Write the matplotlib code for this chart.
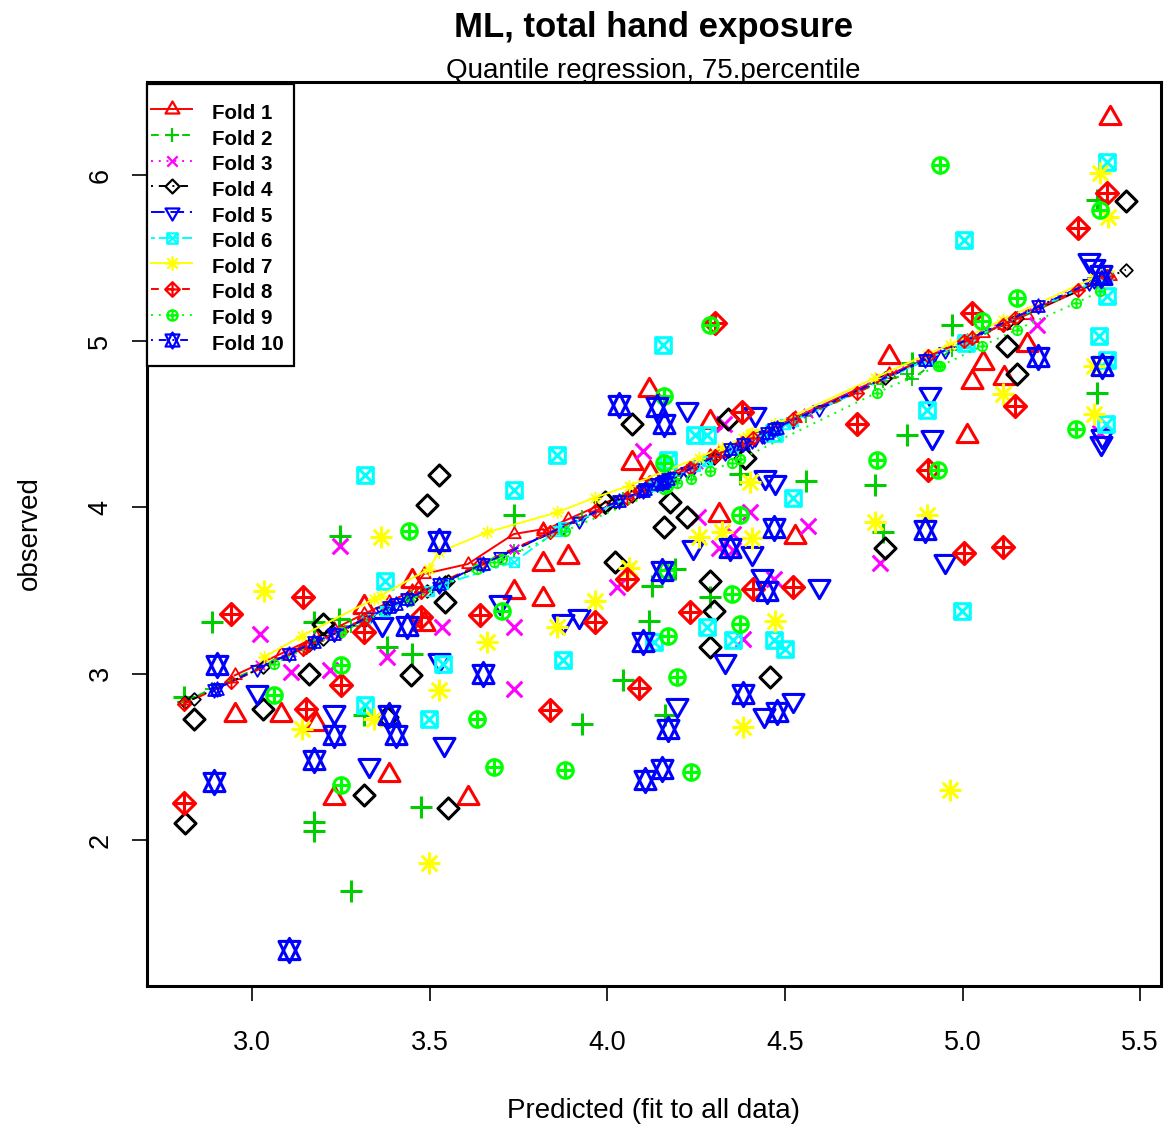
import numpy as np
import matplotlib
matplotlib.use("Agg")
import matplotlib.pyplot as plt
from matplotlib.path import Path
from matplotlib.lines import Line2D
from matplotlib.patches import Rectangle

plt.rcParams['font.family'] = ['Liberation Sans', 'DejaVu Sans']

# ---------------------------------------------------------------------------
# Data per cross-validation fold:
#   *_x    : predicted value from the model fitted to all data
#   *_obs  : observed value
#   *_pred : prediction of the fold model
# ---------------------------------------------------------------------------
f1_x = [2.95, 3.08, 3.18, 3.23, 3.315, 3.385, 3.45, 3.483, 3.607, 3.736, 3.82, 3.82, 3.89,
        4.069, 4.116, 4.12, 4.289, 4.313, 4.528, 4.794, 5.012, 5.026, 5.057, 5.117, 5.181, 5.416]
f1_obs = [2.75, 2.75, 2.70, 2.25, 3.40, 2.39, 3.56, 3.30, 2.25, 3.49, 3.66, 3.45, 3.70,
          4.265, 4.707, 4.21, 4.516, 3.955, 3.82, 4.907, 4.43, 4.757, 4.867, 4.78, 4.977, 6.34]
f1_pred = [2.99, 3.12, 3.22, 3.27, 3.36, 3.43, 3.50, 3.60, 3.66, 3.84, 3.87, 3.86, 3.93,
           4.10, 4.15, 4.15, 4.31, 4.33, 4.54, 4.80, 5.00, 5.02, 5.05, 5.10, 5.16, 5.39]

f2_x = [2.808, 2.887, 3.174, 3.174, 3.174, 3.244, 3.246, 3.277, 3.315, 3.38, 3.45, 3.476, 3.736,
        3.928, 4.045, 4.116, 4.125, 4.163, 4.19, 4.29, 4.374, 4.56, 4.754, 4.777, 4.843, 4.857,
        4.97, 5.378, 5.378]
f2_obs = [2.86, 3.31, 2.11, 2.055, 3.31, 3.33, 3.83, 1.695, 2.75, 3.16, 3.12, 2.20, 3.955,
          2.70, 2.96, 3.32, 3.53, 2.75, 3.63, 3.46, 4.20, 4.16, 4.135, 3.855, 4.435, 4.87,
          5.10, 4.69, 5.85]
f2_pred = [2.83, 2.91, 3.19, 3.19, 3.19, 3.26, 3.26, 3.29, 3.33, 3.39, 3.46, 3.49, 3.74,
           3.94, 4.05, 4.12, 4.13, 4.17, 4.19, 4.29, 4.37, 4.55, 4.74, 4.76, 4.80, 4.77,
           4.95, 5.36, 5.36]

f3_x = [3.023, 3.108, 3.22, 3.246, 3.38, 3.535, 3.736, 3.736, 4.026, 4.10, 4.255, 4.313, 4.327,
        4.354, 4.355, 4.383, 4.402, 4.47, 4.566, 4.768, 5.211, 5.387]
f3_obs = [3.24, 3.01, 3.02, 3.77, 3.10, 3.28, 3.28, 2.91, 3.52, 4.34, 3.94, 3.755, 4.50,
          3.745, 3.84, 3.21, 3.97, 3.57, 3.89, 3.665, 5.10, 4.45]
f3_pred = [3.05, 3.13, 3.24, 3.26, 3.40, 3.55, 3.75, 3.75, 4.04, 4.11, 4.26, 4.32, 4.33,
           4.36, 4.36, 4.39, 4.41, 4.48, 4.57, 4.78, 5.21, 5.40]

f4_x = [2.81, 2.836, 3.03, 3.16, 3.20, 3.315, 3.38, 3.446, 3.493, 3.527, 3.544, 3.55, 3.994,
        4.022, 4.069, 4.158, 4.177, 4.224, 4.29, 4.29, 4.299, 4.341, 4.388, 4.458, 4.782,
        5.125, 5.153, 5.46]
f4_obs = [2.10, 2.73, 2.79, 3.00, 3.30, 2.27, 2.74, 2.99, 4.015, 4.195, 3.43, 2.19, 4.035,
          3.675, 4.505, 3.885, 4.03, 3.94, 3.555, 3.16, 3.38, 4.535, 4.295, 2.98, 3.755,
          4.97, 4.80, 5.845]
f4_pred = [2.83, 2.85, 3.04, 3.17, 3.21, 3.32, 3.39, 3.45, 3.50, 3.53, 3.55, 3.56, 4.00,
           4.03, 4.07, 4.16, 4.18, 4.22, 4.29, 4.29, 4.30, 4.34, 4.39, 4.46, 4.78,
           5.11, 5.14, 5.43]

f5_x = [3.014, 3.23, 3.329, 3.366, 3.525, 3.54, 3.698, 3.876, 3.919, 4.196, 4.224, 4.242,
        4.332, 4.407, 4.416, 4.435, 4.44, 4.444, 4.472, 4.524, 4.596, 4.909, 4.914, 4.95,
        5.355, 5.37, 5.39, 5.392]
f5_obs = [2.89, 2.77, 2.45, 3.30, 3.08, 2.58, 3.43, 3.32, 3.35, 2.81, 4.595, 3.765,
          3.075, 3.725, 4.565, 3.59, 2.75, 4.185, 4.155, 2.84, 3.53, 4.68, 4.425, 3.68,
          5.49, 5.45, 4.39, 4.43]
f5_pred = [3.03, 3.24, 3.34, 3.38, 3.53, 3.55, 3.71, 3.88, 3.92, 4.19, 4.22, 4.24,
           4.33, 4.40, 4.41, 4.43, 4.43, 4.44, 4.47, 4.52, 4.59, 4.90, 4.90, 4.94,
           5.35, 5.36, 5.38, 5.38]

f6_x = [3.317, 3.317, 3.373, 3.497, 3.538, 3.736, 3.857, 3.876, 4.13, 4.156, 4.172, 4.247,
        4.28, 4.28, 4.355, 4.47, 4.47, 4.50, 4.524, 4.899, 4.998, 5.003, 5.01, 5.383, 5.404,
        5.406, 5.406, 5.407]
f6_obs = [4.195, 2.81, 3.56, 2.73, 3.06, 4.105, 4.315, 3.08, 3.19, 4.98, 4.285, 4.435,
          4.435, 3.28, 3.20, 3.20, 4.45, 3.15, 4.055, 4.585, 3.38, 5.61, 4.99, 5.03, 4.50,
          4.89, 6.08, 5.27]
f6_pred = [3.33, 3.33, 3.38, 3.50, 3.54, 3.67, 3.86, 3.88, 4.13, 4.15, 4.17, 4.25,
           4.28, 4.28, 4.35, 4.47, 4.47, 4.50, 4.52, 4.89, 4.99, 4.99, 5.00, 5.37, 5.39,
           5.39, 5.39, 5.39]

f7_x = [3.033, 3.141, 3.343, 3.361, 3.497, 3.525, 3.66, 3.857, 3.966, 4.06, 4.257, 4.322,
        4.383, 4.402, 4.407, 4.472, 4.754, 4.899, 4.965, 5.115, 5.369, 5.369, 5.387, 5.41]
f7_obs = [3.50, 2.67, 2.73, 3.82, 1.86, 2.90, 3.19, 3.28, 3.44, 3.635, 3.825, 3.855,
          2.68, 4.155, 3.815, 3.32, 3.915, 3.955, 2.30, 4.68, 4.56, 4.85, 6.01, 5.75]
f7_pred = [3.10, 3.23, 3.45, 3.47, 3.63, 3.73, 3.85, 3.97, 4.06, 4.13, 4.30, 4.36,
           4.42, 4.44, 4.45, 4.50, 4.78, 4.92, 4.98, 5.13, 5.38, 5.38, 5.40, 5.42]

f8_x = [2.808, 2.94, 3.143, 3.15, 3.249, 3.315, 3.474, 3.64, 3.839, 3.966, 4.055, 4.09,
        4.233, 4.303, 4.379, 4.411, 4.524, 4.702, 4.904, 5.003, 5.026, 5.115, 5.148, 5.326,
        5.406]
f8_obs = [2.22, 3.36, 3.46, 2.79, 2.93, 3.25, 3.34, 3.355, 2.78, 3.31, 3.57, 2.915,
          3.37, 5.11, 4.575, 3.51, 3.52, 4.505, 4.225, 3.725, 5.17, 3.765, 4.61, 5.68,
          5.89]
f8_pred = [2.82, 2.95, 3.15, 3.16, 3.26, 3.33, 3.49, 3.66, 3.85, 3.98, 4.06, 4.10,
           4.24, 4.31, 4.39, 4.42, 4.53, 4.69, 4.91, 5.00, 5.02, 5.10, 5.14, 5.31,
           5.39]

f9_x = [3.061, 3.249, 3.249, 3.441, 3.633, 3.68, 3.703, 3.881, 4.158, 4.158, 4.167, 4.172,
        4.196, 4.235, 4.29, 4.35, 4.374, 4.374, 4.758, 4.932, 4.937, 5.054, 5.153, 5.32, 5.387]
f9_obs = [2.87, 2.33, 3.05, 3.86, 2.73, 2.44, 3.38, 2.42, 4.67, 4.265, 3.625, 3.23,
          2.98, 2.41, 5.10, 3.48, 3.955, 3.30, 4.285, 4.225, 6.06, 5.12, 5.26, 4.475, 5.79]
f9_pred = [3.06, 3.25, 3.25, 3.44, 3.63, 3.67, 3.69, 3.86, 4.11, 4.11, 4.12, 4.13,
           4.15, 4.17, 4.22, 4.27, 4.29, 4.29, 4.69, 4.85, 4.85, 4.97, 5.07, 5.23, 5.30]

f10_x = [2.892, 2.90, 3.103, 3.174, 3.23, 3.385, 3.404, 3.436, 3.527, 3.65, 4.032, 4.10,
         4.106, 4.139, 4.153, 4.153, 4.158, 4.172, 4.346, 4.383, 4.449, 4.468, 4.477, 4.895,
         5.214, 5.39, 5.392]
f10_obs = [2.35, 3.05, 1.34, 2.48, 2.63, 2.75, 2.63, 3.29, 3.80, 3.00, 4.615, 3.19,
           2.36, 4.605, 2.43, 3.615, 4.505, 2.67, 3.755, 2.88, 3.50, 3.875, 2.77, 3.865,
           4.907, 5.40, 4.85]
f10_pred = [2.90, 2.91, 3.12, 3.19, 3.24, 3.40, 3.42, 3.45, 3.54, 3.66, 4.04, 4.10,
            4.11, 4.14, 4.15, 4.15, 4.16, 4.17, 4.35, 4.38, 4.45, 4.47, 4.48, 4.89,
            5.21, 5.38, 5.38]

fold_labels = ["Fold 1", "Fold 2", "Fold 3", "Fold 4", "Fold 5",
               "Fold 6", "Fold 7", "Fold 8", "Fold 9", "Fold 10"]
x_ticks = [3.0, 3.5, 4.0, 4.5, 5.0, 5.5]
y_ticks = [2, 3, 4, 5, 6]

folds = [(f1_x, f1_obs, f1_pred), (f2_x, f2_obs, f2_pred), (f3_x, f3_obs, f3_pred),
         (f4_x, f4_obs, f4_pred), (f5_x, f5_obs, f5_pred), (f6_x, f6_obs, f6_pred),
         (f7_x, f7_obs, f7_pred), (f8_x, f8_obs, f8_pred), (f9_x, f9_obs, f9_pred),
         (f10_x, f10_obs, f10_pred)]

# ---------------------------------------------------------------------------
# R-style plotting symbols (pch 2..11) built as paths
# ---------------------------------------------------------------------------
S2 = np.sqrt(2.0)
TA, TB, TC = 1.5551, 1.3468, 0.7776


def closed(pts):
    pts = list(pts)
    return Path(pts + [pts[0]],
                [Path.MOVETO] + [Path.LINETO] * (len(pts) - 1) + [Path.CLOSEPOLY])


def segs(*pairs):
    verts, codes = [], []
    for p, q in pairs:
        verts += [p, q]
        codes += [Path.MOVETO, Path.LINETO]
    return Path(verts, codes)


plus_big = segs(((-S2, 0), (S2, 0)), ((0, -S2), (0, S2)))
plus_one = segs(((-1, 0), (1, 0)), ((0, -1), (0, 1)))
cross = segs(((-1, -1), (1, 1)), ((-1, 1), (1, -1)))
yc = 0.5 * (TC + TA)

sym = [
    closed([(0, TA), (TB, -TC), (-TB, -TC)]),                          # 2 triangle up
    plus_big,                                                          # 3 plus
    cross,                                                             # 4 cross
    closed([(0, 1.35), (1.35, 0), (0, -1.35), (-1.35, 0)]),            # 5 diamond
    closed([(0, -TA), (TB, TC), (-TB, TC)]),                           # 6 triangle down
    Path.make_compound_path(closed([(-1, -1), (1, -1), (1, 1), (-1, 1)]), cross),  # 7
    Path.make_compound_path(plus_big, cross),                          # 8 asterisk
    Path.make_compound_path(closed([(0, S2), (S2, 0), (0, -S2), (-S2, 0)]), plus_big),  # 9
    Path.make_compound_path(Path.unit_circle(), plus_one),             # 10 circle plus
    Path.make_compound_path(closed([(0, -TA), (TB, yc), (-TB, yc)]),
                            closed([(0, TA), (TB, -yc), (-TB, -yc)])),  # 11 star
]
sym_extent = [np.max(np.abs(p.vertices)) for p in sym]

colors = ['#FF0000', '#00CD00', '#FF00FF', '#000000', '#0000FF',
          '#00FFFF', '#FFFF00', '#FF0000', '#00FF00', '#0000FF']
dash = {
    1: '-',
    2: (0, (4, 4)),
    3: (0, (1, 3)),
    4: (0, (1, 3, 4, 3)),
    5: (0, (7, 3)),
    6: (0, (2, 2, 6, 2)),
}
ltys = [dash[(k % 6) + 1] for k in range(10)]

U_BIG = 7.8 * 0.72     # symbol radius in points
U_SMALL = 4.7 * 0.72

# ---------------------------------------------------------------------------
W, H = 1175, 1125
fig = plt.figure(figsize=(W / 100, H / 100), dpi=100)
L, R, T, B = 146.5, 1161.0, 81.5, 985.5
ax = fig.add_axes([L / W, 1 - B / H, (R - L) / W, (B - T) / H])

for k, (xv, ov, pv) in enumerate(folds):
    xv = np.asarray(xv)
    ov = np.asarray(ov)
    pv = np.asarray(pv)
    col = colors[k]
    ax.plot(xv, ov, ls='none', marker=sym[k], ms=2 * sym_extent[k] * U_BIG,
            mec=col, mfc='none', mew=2.2, zorder=3)
    o = np.argsort(xv, kind='stable')
    ax.plot(xv[o], pv[o], ls=ltys[k], lw=1.4, color=col, marker=sym[k],
            ms=2 * sym_extent[k] * U_SMALL, mec=col, mfc='none', mew=1.3, zorder=3)

ax.set_xlim(2.702, 5.559)
ax.set_ylim(1.125, 6.562)
ax.set_xticks(x_ticks)
ax.set_xticklabels([f"{v:.1f}" for v in x_ticks])
ax.set_yticks(y_ticks)
ax.set_yticklabels([str(v) for v in y_ticks], rotation=90, va='center')
ax.tick_params(axis='both', direction='out', length=10.8, width=1.2, labelsize=19.5)
ax.tick_params(axis='x', pad=21)
ax.tick_params(axis='y', pad=13)
for s in ax.spines.values():
    s.set_linewidth(2.2)


# ---------------------------------------------------------------------------
# Legend box in the top-left corner of the plotting region (pixel layout)
# ---------------------------------------------------------------------------
def fx(px):
    return px / W


def fy(py):
    return 1 - py / H


box_l, box_r, box_t, box_b = 147.0, 293.5, 84.0, 366.5
fig.add_artist(Rectangle((fx(box_l), fy(box_b)), fx(box_r) - fx(box_l), fy(box_t) - fy(box_b),
                         transform=fig.transFigure, facecolor='white', edgecolor='black',
                         linewidth=1.6, zorder=5))
row0, row_step = 109.3, 25.65
for k in range(10):
    yy = row0 + k * row_step
    fig.add_artist(Line2D([fx(150.5), fx(192.0)], [fy(yy), fy(yy)], transform=fig.transFigure,
                          ls=ltys[k], lw=1.4, color=colors[k], zorder=6))
    fig.add_artist(Line2D([fx(171.5)], [fy(yy)], transform=fig.transFigure, ls='none',
                          marker=sym[k], ms=2 * sym_extent[k] * U_SMALL * 1.1,
                          mec=colors[k], mfc='none', mew=1.6, zorder=6))
    fig.text(fx(212.0), fy(yy + 9.6), fold_labels[k], ha='left', va='baseline',
             fontsize=14.8, fontweight='bold', zorder=7)

cx = (L + R) / 2 / W
fig.text(cx, fy(28), "ML, total hand exposure", ha='center', va='center',
         fontsize=25, fontweight='bold')
fig.text(cx, fy(71), "Quantile regression, 75.percentile", ha='center', va='center',
         fontsize=20)
fig.text(cx, fy(1111), "Predicted (fit to all data)", ha='center', va='center',
         fontsize=20)
fig.text(fx(30), fy((T + B) / 2), "observed", ha='center', va='center',
         rotation=90, fontsize=20)

fig.savefig("out.png", dpi=100)
